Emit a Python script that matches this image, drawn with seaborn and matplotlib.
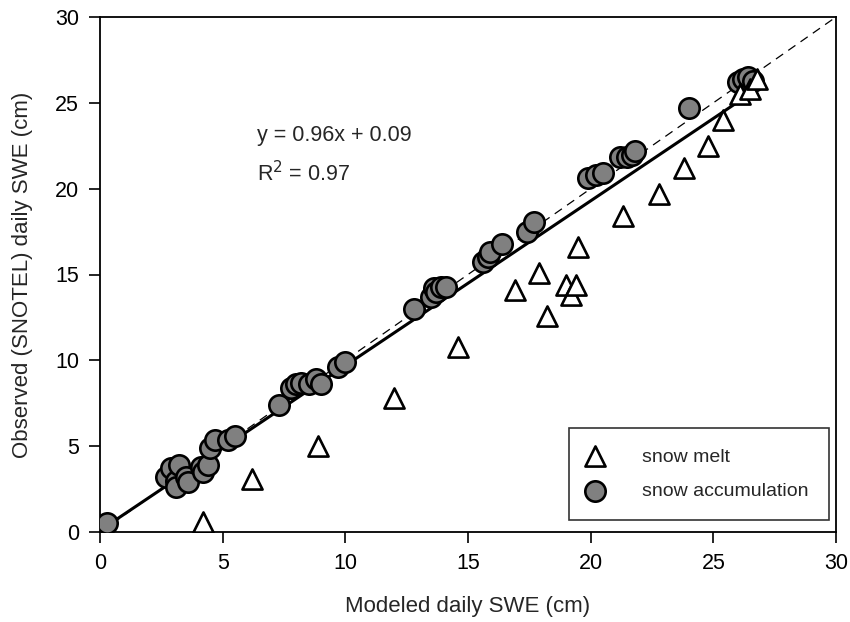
import matplotlib
matplotlib.use("Agg")
import matplotlib.pyplot as plt
import seaborn as sns
import numpy as np
import pandas as pd

melt_x = [4.2, 6.2, 8.9, 12.0, 14.6, 16.9, 17.9, 18.2, 19.0, 19.2, 19.4, 19.5,
          21.3, 22.8, 23.8, 24.8, 25.4, 26.1, 26.5, 26.8]
melt_y = [0.6, 3.1, 5.0, 7.8, 10.8, 14.1, 15.1, 12.6, 14.4, 13.8, 14.4, 16.6,
          18.4, 19.7, 21.2, 22.5, 24.0, 25.5, 25.8, 26.4]

acc_x = [0.3, 2.7, 2.9, 3.1, 3.1, 3.2, 3.5, 3.6, 4.1, 4.2, 4.4, 4.5, 4.7, 5.2, 5.5,
         7.3, 7.8, 8.0, 8.2, 8.5, 8.8, 9.0, 9.7, 10.0, 12.8, 13.5, 13.6, 13.7, 13.9,
         14.1, 15.6, 15.8, 15.9, 16.4, 17.4, 17.7, 19.9, 20.2, 20.5, 21.2, 21.5,
         21.7, 21.8, 24.0, 26.0, 26.2, 26.4, 26.6]
acc_y = [0.5, 3.2, 3.7, 3.0, 2.6, 3.9, 3.2, 2.9, 3.8, 3.5, 3.9, 4.9, 5.35, 5.35, 5.6,
         7.4, 8.4, 8.6, 8.7, 8.6, 8.9, 8.6, 9.6, 9.9, 13.0, 13.7, 14.2, 14.0, 14.3,
         14.3, 15.7, 16.0, 16.3, 16.8, 17.5, 18.05, 20.6, 20.8, 20.9, 21.85, 21.85,
         21.95, 22.2, 24.7, 26.2, 26.4, 26.5, 26.3]

slope = 0.96
intercept = 0.09
r2 = 0.97
ticks = [0, 5, 10, 15, 20, 25, 30]

sns.set_style("white")
plt.rcParams['font.family'] = ['Liberation Sans', 'DejaVu Sans']

fig = plt.figure(figsize=(8.5, 6.22), dpi=100)
ax = fig.add_axes([100/850, 1-532/622, 736/850, 515/622])

# 1:1 line
one = pd.DataFrame({"x": [0, 30], "y": [0, 30]})
sns.lineplot(data=one, x="x", y="y", ax=ax, color="black", lw=0.9,
             linestyle=(0, (7, 5)), zorder=1)

# regression line
all_x = np.array(melt_x + acc_x)
fx = np.array([all_x.min(), 26.0])
fit = pd.DataFrame({"x": fx, "y": slope * fx + intercept})
sns.lineplot(data=fit, x="x", y="y", ax=ax, color="black", lw=2.2, zorder=2)

acc = pd.DataFrame({"x": acc_x, "y": acc_y})
melt = pd.DataFrame({"x": melt_x, "y": melt_y})
sns.scatterplot(data=acc, x="x", y="y", ax=ax, marker="o", s=215,
                color="#808080", edgecolor="black", linewidth=1.9, zorder=3,
                label="snow accumulation")
sns.scatterplot(data=melt, x="x", y="y", ax=ax, marker="^", s=210,
                color="white", edgecolor="black", linewidth=1.9, zorder=4,
                label="snow melt")

ax.set_xlim(0, 30)
ax.set_ylim(0, 30)
ax.set_xticks(ticks)
ax.set_yticks(ticks)
ax.tick_params(axis="both", direction="out", length=8, width=1.2,
               labelsize=15.5, colors="black", bottom=True, left=True,
               top=False, right=False, pad=7)
for sp in ax.spines.values():
    sp.set_color("black")
    sp.set_linewidth(1.3)

ax.set_xlabel("Modeled daily SWE (cm)", fontsize=16, labelpad=16)
ax.set_ylabel("Observed (SNOTEL) daily SWE (cm)", fontsize=16, labelpad=16)

ax.text(6.4, 23.1, f"y = {slope:.2f}x + {intercept:.2f}", fontsize=15.5,
        va="center", ha="left")
ax.text(6.4, 20.9, f"R$^2$ = {r2:.2f}", fontsize=15.5, va="center", ha="left")

h, l = ax.get_legend_handles_labels()
leg = ax.legend(h[::-1], l[::-1], loc="lower right",
                bbox_to_anchor=(0.99, 0.023), borderaxespad=0, fontsize=14,
                frameon=True, fancybox=False, edgecolor="black",
                handlelength=0.6, handletextpad=2.1, borderpad=1.05,
                labelspacing=0.85, markerscale=1.0)
leg.get_frame().set_linewidth(1.2)

fig.savefig("out.png", dpi=100)
